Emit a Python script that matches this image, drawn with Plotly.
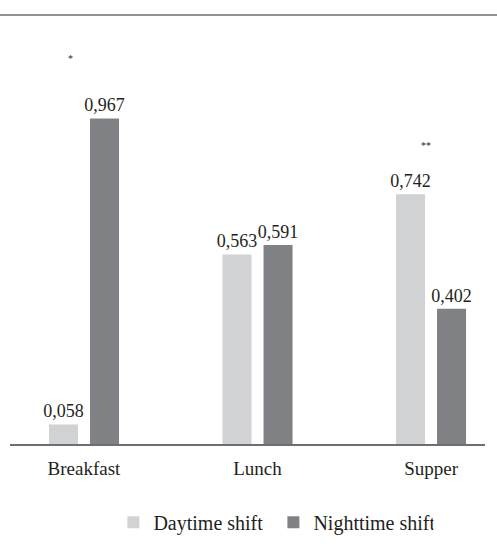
import plotly.graph_objects as go

categories = ["Breakfast", "Lunch", "Supper"]
daytime = [0.058, 0.563, 0.742]
nighttime = [0.967, 0.591, 0.402]
day_labels = ["0,058", "0,563", "0,742"]
night_labels = ["0,967", "0,591", "0,402"]
marks = [("Breakfast", 1.146, "*", -14), ("Supper", 0.887, "**", -5)]

FONT = "Liberation Serif, DejaVu Serif, serif"
TXT = "#231f20"
fig = go.Figure()
fig.add_trace(go.Bar(x=categories, y=daytime, name="Daytime shift",
                     marker=dict(color="#d1d2d4", line=dict(width=0)),
                     text=day_labels, textposition="outside", cliponaxis=False,
                     constraintext="none",
                     textfont=dict(family=FONT, size=18, color=TXT)))
fig.add_trace(go.Bar(x=categories, y=nighttime, name="Nighttime shift",
                     marker=dict(color="#808184", line=dict(width=0)),
                     text=night_labels, textposition="outside", cliponaxis=False,
                     constraintext="none",
                     textfont=dict(family=FONT, size=18, color=TXT)))

for cat, yv, txt, xs in marks:
    fig.add_annotation(x=cat, y=yv, text=txt, showarrow=False, xshift=xs,
                       font=dict(family=FONT, size=10, color=TXT))

L, R, T, B = 10, 12, 15, 100
W = 497 - L - R
fig.add_shape(type="line", xref="paper", yref="paper",
              x0=-L / W, x1=1 + R / W, y0=1, y1=1,
              line=dict(color="#6d6e71", width=1.5))

fig.update_layout(
    width=497, height=544,
    margin=dict(l=L, r=R, t=T, b=B, autoexpand=False),
    paper_bgcolor="white", plot_bgcolor="white",
    barmode="group", bargap=0.527, bargroupgap=0.293,
    font=dict(family=FONT, size=20, color=TXT),
    xaxis=dict(range=[-0.4265, 2.311], showgrid=False, showline=True,
               linecolor="#6d6e71", linewidth=1.5, ticks="",
               automargin=False, ticklabelstandoff=6,
               tickfont=dict(family=FONT, size=19, color=TXT)),
    yaxis=dict(range=[0, 1.274], visible=False, showgrid=False, zeroline=False,
               automargin=False),
    legend=dict(orientation="h", x=0.5545, xanchor="center",
                yref="container", y=0.04, yanchor="middle",
                font=dict(family=FONT, size=20, color=TXT),
                itemwidth=30, tracegroupgap=0, entrywidth=115),
    showlegend=True,
)

fig.write_html("out.html")
